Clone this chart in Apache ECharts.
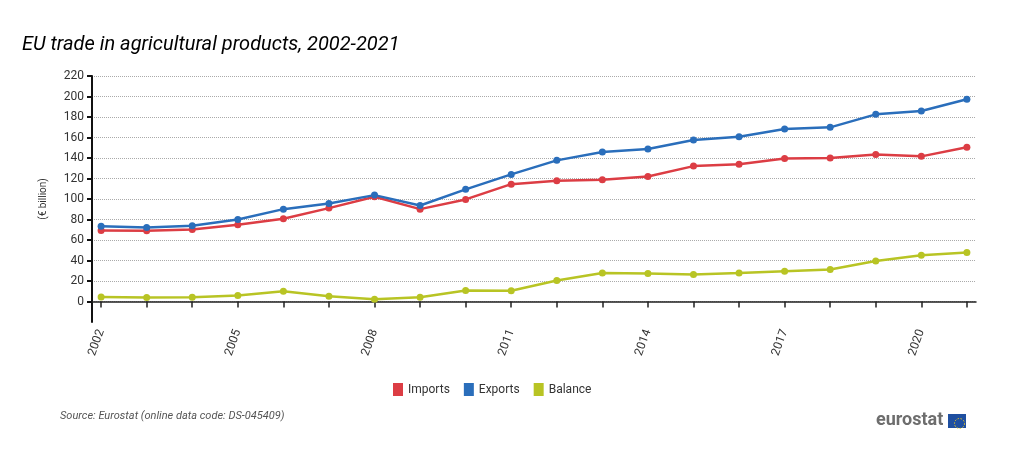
<!DOCTYPE html>
<html>
<head>
<meta charset="utf-8">
<script src="https://cdn.jsdelivr.net/npm/echarts@6/dist/echarts.min.js"></script>
<style>
  html, body { margin: 0; padding: 0; background: #fff; }
  #chart { width: 1024px; height: 461px; }
</style>
</head>
<body>
<div id="chart"></div>
<script>
const years = [2002, 2003, 2004, 2005, 2006, 2007, 2008, 2009, 2010, 2011,
  2012, 2013, 2014, 2015, 2016, 2017, 2018, 2019, 2020, 2021]
const imports = [69.3, 69.0, 70.3, 74.8, 80.7, 91.1, 102.2, 90.1, 99.6, 114.5,
  117.8, 118.8, 122.0, 132.1, 133.8, 139.6, 139.9, 143.5, 141.6, 150.4]
const exports = [73.5, 72.3, 73.8, 80.0, 90.1, 95.7, 103.8, 93.7, 109.4, 124.0,
  137.7, 145.8, 148.7, 157.5, 160.7, 168.3, 169.9, 182.6, 185.8, 197.3]
const balance = [4.5, 3.9, 4.2, 5.9, 10.0, 5.2, 2.2, 4.2, 10.7, 10.4,
  20.5, 27.9, 27.3, 26.3, 27.9, 29.6, 31.2, 39.6, 45.2, 47.8]
const yearLabels = [2002, 2005, 2008, 2011, 2014, 2017, 2020]
const yTicks = [0, 20, 40, 60, 80, 100, 120, 140, 160, 180, 200, 220]

const colors = ['#dc3d44', '#2a6ebb', '#b8c424']

function pairs(vals) {
  return years.map((y, i) => [y, vals[i]])
}

function lineSeries(name, vals, color) {
  return {
    name: name,
    type: 'line',
    data: pairs(vals),
    symbol: 'circle',
    symbolSize: 7,
    lineStyle: { width: 2.5, color: color },
    itemStyle: { color: color },
    emphasis: { disabled: true }
  }
}

let chart = echarts.init(document.getElementById('chart'))
let option = {
  animation: false,
  textStyle: { fontFamily: 'Roboto, Arial, sans-serif' },
  title: {
    text: 'EU trade in agricultural products, 2002-2021',
    left: 17,
    top: 30,
    textStyle: {
      fontFamily: 'Roboto',
      fontStyle: 'italic',
      fontWeight: 'normal',
      fontSize: 20,
      color: '#000'
    }
  },
  legend: {
    left: 388,
    top: 378,
    itemWidth: 10,
    itemHeight: 13,
    itemGap: 14,
    icon: 'rect',
    textStyle: { fontSize: 12, color: '#333', fontFamily: 'Roboto' },
    data: ['Imports', 'Exports', 'Balance']
  },
  grid: { left: 92, right: 48, top: 76, bottom: 139 },
  xAxis: {
    type: 'value',
    min: 2001.8,
    max: 2021.2,
    splitLine: { show: false },
    axisLine: { show: true, lineStyle: { color: '#222', width: 1.5 } },
    axisTick: {
      show: true,
      length: 6,
      customValues: years,
      lineStyle: { color: '#222', width: 1.5 }
    },
    axisLabel: {
      customValues: yearLabels,
      rotate: 70,
      fontSize: 12,
      color: '#333',
      margin: 8,
      formatter: v => String(v)
    }
  },
  yAxis: {
    type: 'value',
    min: -20,
    max: 220,
    interval: 20,
    name: '(€ billion)',
    nameLocation: 'middle',
    nameGap: 44,
    nameRotate: 90,
    nameTextStyle: { fontSize: 10, color: '#333' },
    axisLine: { show: true, lineStyle: { color: '#111', width: 2 } },
    axisTick: {
      show: true,
      length: 5,
      customValues: yTicks,
      lineStyle: { color: '#111', width: 2 }
    },
    axisLabel: {
      customValues: yTicks,
      fontSize: 12,
      color: '#333',
      margin: 8,
      formatter: v => String(v)
    },
    splitLine: { lineStyle: { color: '#aaa', type: 'dotted', width: 1 } }
  },
  series: [
    lineSeries('Imports', imports, colors[0]),
    lineSeries('Exports', exports, colors[1]),
    lineSeries('Balance', balance, colors[2])
  ],
  graphic: [
    {
      type: 'text',
      left: 60,
      top: 411,
      style: {
        text: 'Source: Eurostat (online data code: DS-045409)',
        font: 'italic 11px Roboto',
        fill: '#555'
      }
    },
    {
      type: 'text',
      left: 876,
      top: 411,
      style: {
        text: 'eurostat',
        font: 'bold 18px Roboto',
        fill: '#6d6d6d'
      }
    },
    {
      type: 'rect',
      left: 948,
      top: 414,
      shape: { width: 18, height: 14 },
      style: { fill: '#1f4fa0' }
    },
    {
      type: 'circle',
      left: 952,
      top: 416,
      shape: { r: 5 },
      style: { fill: 'none', stroke: '#e8c820', lineWidth: 1, lineDash: [1.5, 1.5] }
    }
  ]
}
chart.setOption(option)
</script>
</body>
</html>
